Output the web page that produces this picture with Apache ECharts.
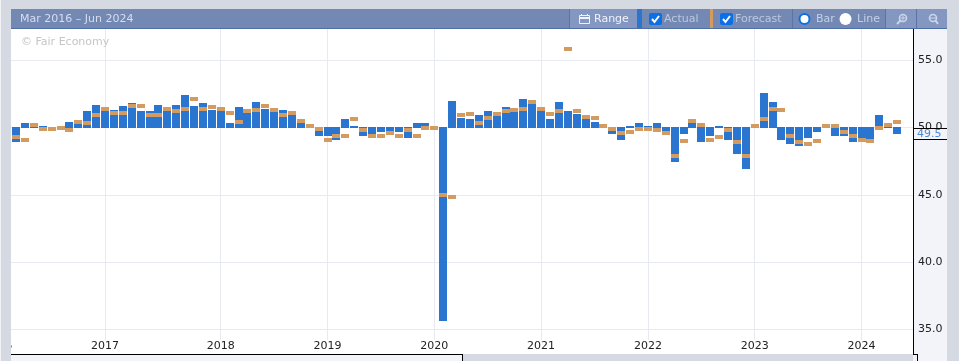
<!DOCTYPE html>
<html>
<head>
<meta charset="utf-8">
<style>html,body{margin:0;padding:0;background:#d5d9e2;}#c{width:959px;height:361px;}</style>
<script src="https://cdn.jsdelivr.net/npm/echarts@6/dist/echarts.min.js"></script>
</head>
<body>
<div id="c"></div>
<script>
const actual = [48.9,50.3,50.1,50.1,49.9,50.0,50.4,50.3,51.2,51.7,
51.3,51.3,51.6,51.8,51.2,51.2,51.7,51.2,51.7,52.4,
51.6,51.8,51.3,51.2,50.3,51.5,51.4,51.9,51.4,51.2,
51.3,50.9,50.3,50.0,49.4,49.4,49.1,50.6,50.1,49.4,
49.5,49.7,49.7,49.7,49.2,50.3,50.3,50.0,35.6,52.0,
50.7,50.6,50.9,51.2,50.9,51.5,51.2,52.1,51.8,51.2,
50.6,51.9,51.2,51.0,50.6,50.4,50.0,49.5,49.1,50.1,
50.3,50.1,50.3,49.7,47.4,49.5,50.3,48.9,49.4,50.1,
49.1,48.0,46.9,50.1,52.6,51.9,49.1,48.8,48.6,49.2,
49.7,50.0,49.4,49.4,48.9,49.2,49.0,50.9,50.3,49.5];
const forecast = [49.3,49.1,50.2,49.9,49.9,50.0,49.8,50.4,50.3,50.9,
51.4,51.1,51.1,51.6,51.6,50.9,50.9,51.4,51.2,51.4,
52.1,51.4,51.5,51.4,51.1,50.4,51.2,51.3,51.6,51.3,
50.9,51.1,50.5,50.1,49.9,49.1,49.4,49.4,50.6,49.8,
49.4,49.4,49.6,49.4,49.8,49.4,50.0,50.0,45.0,44.8,
50.9,51.0,50.3,50.7,51.0,51.2,51.3,51.4,51.9,51.4,
51.0,51.2,55.8,51.2,50.8,50.7,50.1,49.9,49.6,49.7,
49.9,49.9,49.8,49.6,47.9,49.0,50.5,50.2,49.1,49.3,
49.8,48.9,47.9,50.1,50.6,51.4,51.3,49.4,48.9,48.8,
49.0,50.1,50.1,49.7,49.4,49.1,49.0,50.0,50.2,50.4];
const baseline = 50;
const yearLabels = ['2016','2017','2018','2019','2020','2021','2022','2023','2024'];
const yearColumns = [-2,10,23,35,47,59,71,83,95];
const yTickLabels = [35,40,45,50,55];
const rangeText = 'Mar 2016 – Jun 2024';
const lastValue = 49.5;

const FONT = '"DejaVu Sans", sans-serif';
const PAD_L = 3, PAD_R = 2;
const categories = [];
for (let i = -PAD_L; i < actual.length + PAD_R; i++) {
  const k = yearColumns.indexOf(i);
  categories.push(k >= 0 ? yearLabels[k] : '');
}
const isYear = (i, v) => v !== '';

function barRender(p, api) {
  const x = Math.round(api.coord([api.value(0), baseline])[0] - 4);
  const yv = api.coord([api.value(0), api.value(1)])[1];
  const v = api.value(1);
  let top, bot;
  if (v >= baseline) { top = Math.round(yv); bot = 128; }
  else { top = 127; bot = Math.round(yv); }
  return { type: 'rect', shape: { x, y: top, width: 8, height: bot - top }, style: { fill: '#2a75d0' } };
}
function fcRender(p, api) {
  const c = api.coord([api.value(0), api.value(1)]);
  return { type: 'rect', shape: { x: Math.round(c[0] - 4), y: Math.round(c[1] - 2), width: 8, height: 4 }, style: { fill: '#d39b60' } };
}
function lastRender(p, api) {
  const y = api.coord([api.value(0), api.value(1)])[1];
  const top = Math.round(y) - 6, h = 11;
  return { type: 'group', children: [
    { type: 'rect', shape: { x: 914, y: top, width: 33, height: h }, style: { fill: '#f3f4f9' } },
    { type: 'rect', shape: { x: 913, y: top, width: 34, height: 1 }, style: { fill: '#000' } },
    { type: 'rect', shape: { x: 913, y: top + h, width: 34, height: 1 }, style: { fill: '#000' } },
    { type: 'text', style: { x: 917, y: top + 6.5, text: api.value(1).toFixed(1), fill: '#4a8bd8', font: '11px ' + FONT, textVerticalAlign: 'middle' } }
  ]};
}

const R = (x, y, w, h, fill, z, extra) => Object.assign({ type: 'rect', shape: { x, y, width: w, height: h }, style: { fill }, z, silent: true }, extra || {});
const T = (x, y, text, fill, z) => ({ type: 'text', x, y, z, silent: true, style: { text, fill, font: '11px ' + FONT, verticalAlign: 'middle', textVerticalAlign: 'middle' } });
const check = (x, y) => [
  { type: 'rect', shape: { x, y, width: 13, height: 12, r: 2 }, style: { fill: '#0b6fe6' }, z: 76, silent: true },
  { type: 'polyline', shape: { points: [[x + 3, y + 6], [x + 5.5, y + 9], [x + 10, y + 3]] }, style: { stroke: '#fff', lineWidth: 2, fill: 'none' }, z: 77, silent: true }
];
const mag = (cx, cy, plus) => {
  const c = '#ccd6ea';
  return [
    { type: 'circle', shape: { cx: cx + 1, cy: cy - 1, r: 3.5 }, style: { stroke: c, lineWidth: 1.6, fill: 'none' }, z: 77, silent: true },
    { type: 'line', shape: { x1: cx + (plus ? -1.5 : 3.5), y1: cy + 1.5, x2: cx + (plus ? -5 : 6), y2: cy + 5 }, style: { stroke: c, lineWidth: 2 }, z: 77, silent: true }
  ];
};

const graphicEls = [
  R(0, 0, 959, 9, '#d5d9e2', 70),
  R(0, 9, 11, 352, '#d5d9e2', 70),
  R(0, 0, 1, 361, '#f1f2f6', 71),
  R(947, 0, 12, 361, '#d5d9e2', 70),
  R(11, 9, 936, 19, '#7488b4', 71),
  R(11, 28, 936, 1, '#4f6ea9', 71),
  R(11, 340, 902, 14, '#ffffff', 50),
  R(913, 29, 34, 332, '#f3f4f9', 50),
  R(913, 29, 1, 325, '#000000', 72),
  R(11, 354, 902, 7, '#d5d9e2', 70),
  R(11, 355, 451, 6, '#f3f4f9', 71),
  R(11, 354, 452, 1, '#000000', 72),
  R(462, 354, 1, 7, '#000000', 72),
  R(913, 354, 5, 1, '#000000', 72),
  R(917, 354, 1, 7, '#000000', 72),
  R(918, 355, 29, 6, '#f3f4f9', 71),
  T(20, 19, rangeText, '#d6ddee', 75),
  T(21, 42, '© Fair Economy', '#c6c6c6', 48),
  R(569, 9, 1, 19, '#5a73a8', 73),
  R(570, 9, 67, 19, '#8497c0', 72),
  R(637, 9, 5, 19, '#2a75d0', 73),
  R(710, 9, 3, 19, '#d39b60', 73),
  R(792, 9, 1, 19, '#5a73a8', 73),
  R(886, 9, 61, 19, '#8497c0', 72),
  R(885, 9, 1, 19, '#5a73a8', 73),
  R(916, 9, 1, 19, '#5a73a8', 73),
  { type: 'rect', shape: { x: 579.5, y: 15.5, width: 10, height: 8 }, style: { fill: 'none', stroke: '#eef2fa', lineWidth: 1 }, z: 77, silent: true },
  R(579, 17, 11, 2, '#eef2fa', 77), R(581, 14, 1, 2, '#eef2fa', 77), R(587, 14, 1, 2, '#eef2fa', 77),
  T(594, 19.5, 'Range', '#eef2fa', 75),
  ...check(649, 13),
  T(664, 19.5, 'Actual', '#bcc8e0', 75),
  ...check(720, 13),
  T(735, 19.5, 'Forecast', '#bcc8e0', 75),
  { type: 'circle', shape: { cx: 804.5, cy: 19, r: 5 }, style: { fill: '#fff', stroke: '#0b6fe6', lineWidth: 2 }, z: 76, silent: true },
  T(816, 19.5, 'Bar', '#c5d0e6', 75),
  { type: 'circle', shape: { cx: 845.5, cy: 19, r: 6 }, style: { fill: '#fff' }, z: 76, silent: true },
  T(857, 19.5, 'Line', '#c5d0e6', 75),
  ...mag(902, 19, true),
  R(900.5, 17.5, 5, 1, '#ccd6ea', 77), R(902.5, 15.5, 1, 5, '#ccd6ea', 77),
  ...mag(932, 19, false),
  R(930, 17.5, 6, 1, '#ccd6ea', 77)
];

const chart = echarts.init(document.getElementById('c'), null, { renderer: 'canvas' });
const xBase = { type: 'category', data: categories, boundaryGap: false, position: 'bottom',
  axisLine: { show: false }, axisTick: { show: false } };
const yBase = { type: 'value', min: 30, max: 60, interval: 5, position: 'right',
  axisLine: { show: false }, axisTick: { show: false } };
chart.setOption({
  animation: false,
  backgroundColor: '#ffffff',
  grid: { left: -10.7, top: -7, width: 925.6, height: 403.5, containLabel: false, outerBoundsMode: 'none' },
  xAxis: [
    Object.assign({}, xBase, { z: 0, axisLabel: { show: false },
      splitLine: { show: true, interval: isYear, lineStyle: { color: '#e8eaf2', width: 1 } } }),
    Object.assign({}, xBase, { z: 60, splitLine: { show: false },
      axisLabel: { show: true, interval: isYear, margin: -56, color: '#222', fontFamily: FONT, fontSize: 11 } })
  ],
  yAxis: [
    Object.assign({}, yBase, { z: 0, axisLabel: { show: false },
      splitLine: { show: true, lineStyle: { color: '#e8eaf2', width: 1 } } }),
    Object.assign({}, yBase, { z: 60, splitLine: { show: false },
      axisLabel: { show: true, margin: 3, color: '#222', fontFamily: FONT, fontSize: 11,
        formatter: v => yTickLabels.includes(v) ? v.toFixed(1) : '' } })
  ],
  graphic: { elements: graphicEls },
  series: [
    { name: 'Actual', type: 'custom', z: 2, clip: false, renderItem: barRender, xAxisIndex: 0, yAxisIndex: 0,
      encode: { x: 0, y: 1 }, data: actual.map((v, i) => [i + PAD_L, v]) },
    { name: 'Forecast', type: 'custom', z: 3, clip: false, renderItem: fcRender, xAxisIndex: 0, yAxisIndex: 0,
      encode: { x: 0, y: 1 }, data: forecast.map((v, i) => [i + PAD_L, v]) },
    { name: 'Latest', type: 'custom', z: 80, clip: false, renderItem: lastRender, xAxisIndex: 0, yAxisIndex: 0,
      encode: { x: 0, y: 1 }, data: [[actual.length - 1 + PAD_L, lastValue]] }
  ]
});
</script>
</body>
</html>
